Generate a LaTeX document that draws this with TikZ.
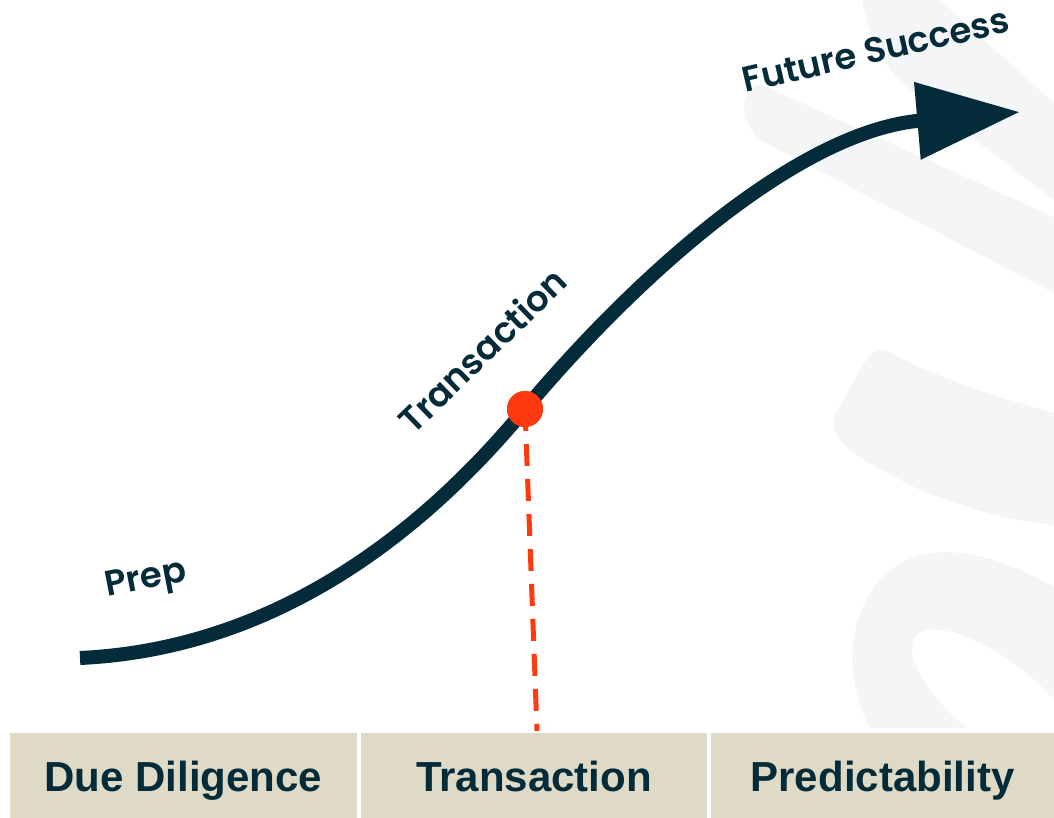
\documentclass[tikz,border=0pt]{standalone}
\usepackage{fontspec}
\setmainfont{Liberation Sans}
\newfontfamily\curvefont{Poppins SemiBold}
\usetikzlibrary{arrows.meta}
\definecolor{navy}{HTML}{032B3A}
\definecolor{beige}{HTML}{DFDAC6}
\definecolor{signal}{HTML}{FF3A10}
\definecolor{wmgray}{HTML}{F4F5F6}

\begin{document}
\begin{tikzpicture}
  [x=1pt,y=-1pt,
   phase/.style={fill=beige,minimum width=#1,minimum height=85pt,inner sep=0pt,
     text height=34pt,text depth=3pt,
     text=navy,font=\fontsize{42}{50}\selectfont\bfseries},
   stage/.style={text=navy,inner sep=0pt,font=\curvefont\fontsize{35.5}{40}\selectfont}]
  \useasboundingbox (0,0) rectangle (1054,818);

  \fill[wmgray] (862,0) .. controls (870,40) and (885,70) .. (910,90) -- (1054,200) -- (1054,103) -- (940,0) -- cycle;
  \fill[wmgray] (760,84) .. controls (740,90) and (738,120) .. (760,140) -- (1054,293) -- (1054,217) -- cycle;
  \fill[wmgray] (885,350) .. controls (870,345) and (860,370) .. (835,415)
     .. controls (825,440) and (860,460) .. (920,490) .. controls (970,510) and (1010,520) .. (1054,525)
     -- (1054,413) .. controls (990,395) and (930,375) .. cycle;
  \fill[wmgray] (870,728) .. controls (845,680) and (845,620) .. (880,580)
     .. controls (920,535) and (990,550) .. (1054,587) -- (1054,700)
     .. controls (1020,660) and (960,625) .. (925,630) .. controls (895,640) and (920,690) .. (967,728) -- cycle;

  \coordinate (start) at (80,658);
  \coordinate (tip) at (1020,112);
  \coordinate (dashend) at (537,731);
  \node[circle,fill=signal,minimum size=36pt,inner sep=0pt] (dot) at (525,409) {};

  \node[phase=347pt] (due) at (183.5,775.5) {Due Diligence};
  \node[phase=346pt] (trans) at (534,775.5) {Transaction};
  \node[phase=343pt] (pred) at (882.5,775.5) {Predictability};

  \node[stage,rotate=11] (prep) at (146,581) {Prep};
  \node[stage,rotate=44] (mid) at (482,350) {Transaction};
  \node[stage,rotate=13] (future) at (876,50) {Future Success};

  \draw[signal,line width=5pt,dash pattern=on 22pt off 13pt] (dot.center) -- (dashend);
  \draw[navy,line width=14pt,-{Triangle[length=103pt,width=74pt]}]
    (start) .. controls (250,650) and (400,560) .. (dot.center)
    .. controls (640,272) and (800,131) .. (tip);
  \fill[signal] (dot) circle (18pt);
\end{tikzpicture}
\end{document}
